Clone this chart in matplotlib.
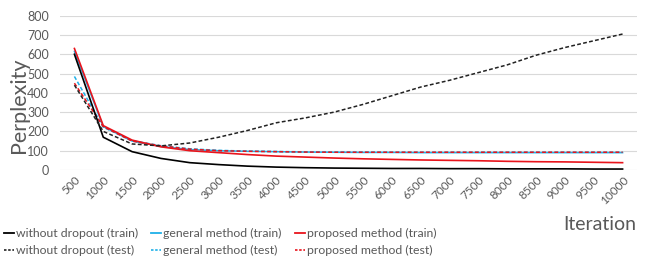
import matplotlib
matplotlib.use("Agg")
import matplotlib.pyplot as plt
from matplotlib.lines import Line2D

plt.rcParams['font.family'] = ['Lato', 'DejaVu Sans']

iterations = [500, 1000, 1500, 2000, 2500, 3000, 3500, 4000, 4500, 5000,
              5500, 6000, 6500, 7000, 7500, 8000, 8500, 9000, 9500, 10000]
wo_train = [600, 170, 95, 60, 38, 28, 20, 15, 12, 10, 9, 8, 8, 7, 7, 6, 6, 6, 5, 5]
wo_test = [440, 200, 135, 125, 140, 170, 205, 245, 270, 300, 340, 385, 430, 465, 505, 545, 595, 635, 670, 705]
gen_train = [615, 225, 150, 122, 106, 100, 97, 95, 93, 92, 91, 91, 90, 90, 90, 90, 90, 90, 90, 90]
gen_test = [485, 222, 152, 126, 110, 102, 98, 96, 94, 93, 93, 92, 92, 92, 92, 92, 92, 92, 92, 92]
prop_train = [630, 230, 155, 120, 100, 90, 80, 72, 67, 62, 58, 55, 52, 50, 48, 45, 43, 42, 40, 38]
prop_test = [450, 225, 150, 125, 108, 100, 97, 95, 93, 92, 92, 92, 92, 92, 92, 92, 92, 92, 92, 92]

blue = '#1fb0e8'
red = '#e8141c'
gray = '#595959'

fig = plt.figure(figsize=(6.54, 2.70), dpi=100)
ax = fig.add_axes([60/654, 1-170/270, (637-60)/654, (170-15.7)/270])
x = list(range(len(iterations)))

ax.plot(x, gen_train, color=blue, lw=1.1)
ax.plot(x, gen_test, color=blue, lw=1.1, ls=(0, (2.5, 1.5)))
ax.plot(x, prop_test, color=red, lw=1.1, ls=(0, (2.5, 1.5)))
ax.plot(x, prop_train, color=red, lw=1.2)
ax.plot(x, wo_train, color='black', lw=1.2)
ax.plot(x, wo_test, color='#222222', lw=1.1, ls=(0, (2.5, 1.5)))

ax.set_xlim(-0.5, 19.5)
ax.set_ylim(0, 800)
ax.set_yticks(range(0, 801, 100))
ax.set_xticks(x)
ax.set_xticklabels([str(v) for v in iterations], rotation=45, ha='right',
                   rotation_mode='anchor', fontsize=8.5, color=gray)
ax.tick_params(axis='y', labelsize=9, colors=gray, length=0, pad=8)
ax.tick_params(axis='x', length=0, pad=3)
ax.grid(axis='y', color='#d9d9d9', lw=0.8)
ax.set_axisbelow(True)
for s in ax.spines.values():
    s.set_visible(False)

fig.text(19/654, 1-105/270, 'Perplexity', fontsize=15.5, color=gray,
         rotation=90, ha='center', va='center')
fig.text(636/654, 1-225/270, 'Iteration', fontsize=14, color=gray, ha='right', va='center')

groups = [
    ('black', '#222222', 'without dropout', 4),
    (blue, blue, 'general method', 151),
    (red, red, 'proposed method', 295),
]
for c1, c2, name, xpos in groups:
    handles = [Line2D([], [], color=c1, lw=1.3),
               Line2D([], [], color=c2, lw=1.2, ls=(0, (1.5, 1)))]
    labels = [name + ' (train)', name + ' (test)']
    leg = fig.legend(handles, labels, loc='upper left',
                     bbox_to_anchor=(xpos/654, 1-228/270), frameon=False,
                     fontsize=8.8, handlelength=0.8, handletextpad=0.15,
                     labelspacing=0.5, borderaxespad=0, borderpad=0)
    for t in leg.get_texts():
        t.set_color(gray)

fig.savefig('out.png', dpi=100)
